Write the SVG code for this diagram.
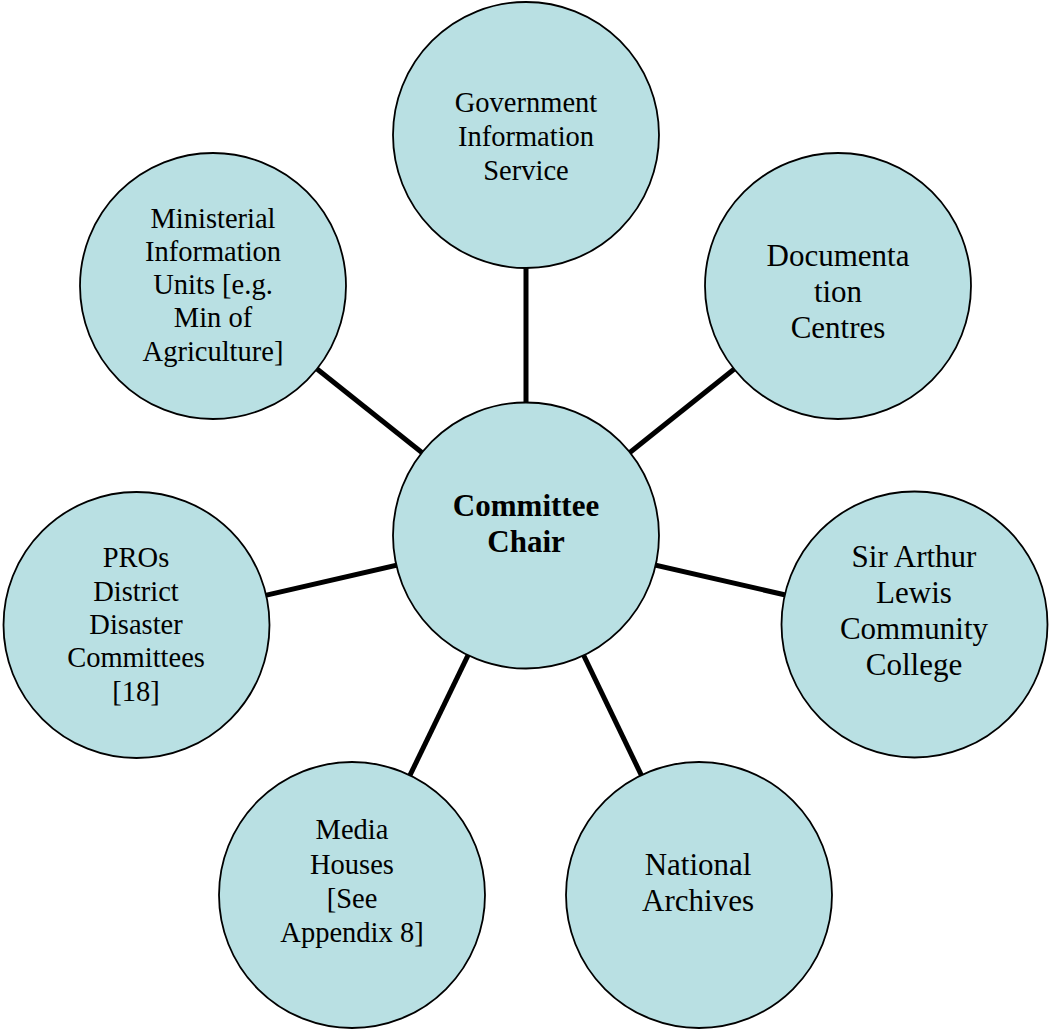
<svg xmlns="http://www.w3.org/2000/svg" width="1049" height="1029" viewBox="0 0 1049 1029">
<style>
.n{fill:#B9E0E3;stroke:#000;stroke-width:1.8}
.t{font-family:"Liberation Serif","Times New Roman",serif;fill:#000;text-anchor:middle}
.s{font-size:28.5px}
.l{font-size:31px}
.b{font-size:31px;font-weight:bold}
.c{stroke:#000;stroke-width:5;fill:none}
</style>
<rect width="1049" height="1029" fill="#fff"/>
<g id="connectors">
<line class="c" x1="526" y1="535.5" x2="526" y2="135"/>
<line class="c" x1="526" y1="535.5" x2="213" y2="286"/>
<line class="c" x1="526" y1="535.5" x2="838" y2="286"/>
<line class="c" x1="526" y1="535.5" x2="136.5" y2="625"/>
<line class="c" x1="526" y1="535.5" x2="914.5" y2="624.5"/>
<line class="c" x1="526" y1="535.5" x2="352" y2="895"/>
<line class="c" x1="526" y1="535.5" x2="699" y2="895"/>
</g>
<g id="gis">
<circle class="n" cx="526" cy="135" r="133"/>
<text class="t s" x="526" y="112">Government</text>
<text class="t s" x="526" y="146">Information</text>
<text class="t s" x="526" y="180">Service</text>
</g>
<g id="ministerial">
<circle class="n" cx="213" cy="286" r="133"/>
<text class="t s" x="213" y="228">Ministerial</text>
<text class="t s" x="213" y="261">Information</text>
<text class="t s" x="213" y="294">Units [e.g.</text>
<text class="t s" x="213" y="327">Min of</text>
<text class="t s" x="213" y="361">Agriculture]</text>
</g>
<g id="documentation">
<circle class="n" cx="838" cy="286" r="133"/>
<text class="t l" x="838" y="266">Documenta</text>
<text class="t l" x="838" y="302">tion</text>
<text class="t l" x="838" y="338">Centres</text>
</g>
<g id="chair">
<circle class="n" cx="526" cy="535.5" r="133"/>
<text class="t b" x="526" y="516">Committee</text>
<text class="t b" x="526" y="552">Chair</text>
</g>
<g id="pros">
<circle class="n" cx="136.5" cy="625" r="133"/>
<text class="t s" x="136" y="567">PROs</text>
<text class="t s" x="136" y="601">District</text>
<text class="t s" x="136" y="634">Disaster</text>
<text class="t s" x="136" y="667">Committees</text>
<text class="t s" x="136" y="701">[18]</text>
</g>
<g id="salcc">
<circle class="n" cx="914.5" cy="624.5" r="133"/>
<text class="t l" x="914" y="567">Sir Arthur</text>
<text class="t l" x="914" y="603">Lewis</text>
<text class="t l" x="914" y="639">Community</text>
<text class="t l" x="914" y="675">College</text>
</g>
<g id="media">
<circle class="n" cx="352" cy="895" r="133"/>
<text class="t s" x="352" y="839">Media</text>
<text class="t s" x="352" y="874">Houses</text>
<text class="t s" x="352" y="908">[See</text>
<text class="t s" x="352" y="942">Appendix 8]</text>
</g>
<g id="archives">
<circle class="n" cx="699" cy="895" r="133"/>
<text class="t l" x="698" y="875">National</text>
<text class="t l" x="698" y="911">Archives</text>
</g>
</svg>
